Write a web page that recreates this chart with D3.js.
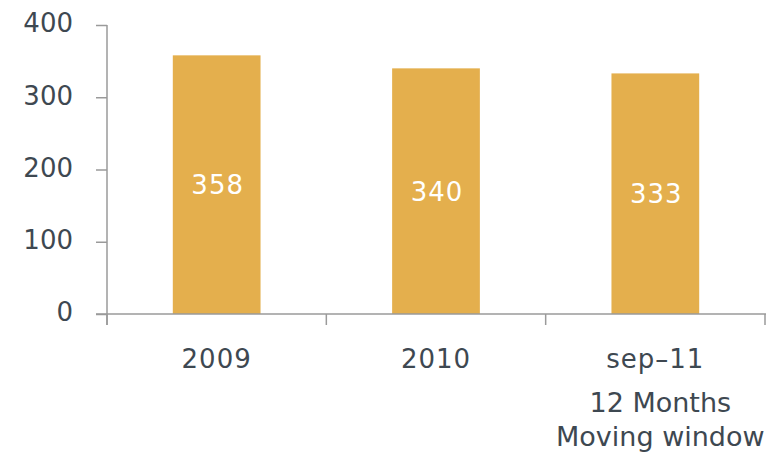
<!DOCTYPE html>
<html>
<head>
<meta charset="utf-8">
<script src="https://cdn.jsdelivr.net/npm/d3@7"></script>
<style>
  body { margin: 0; background: #fff; }
  text { font-family: "DejaVu Sans", sans-serif; }
</style>
</head>
<body>
<div id="container"></div>
<script>
let w = 774;
let h = 453;

// data
let categories = ["2009", "2010", "sep\u201311"];
let values = [358, 340, 333];
let yTicks = [0, 100, 200, 300, 400];
let subLabel = ["12 Months", "Moving window"];

let barColor = "#e4af4d";
let axisColor = "#9a9a9a";
let textColor = "#3e4851";

let viz = d3.select("#container")
  .append("svg")
    .attr("width", w)
    .attr("height", h);

let y = d3.scaleLinear().domain([0, 400]).range([314, 25]);
let xBand = d3.scaleBand().domain(categories).range([107, 765]).padding(0);

// y axis
let yAxis = d3.axisLeft(y)
  .tickValues(yTicks)
  .tickSize(11)
  .tickSizeOuter(0)
  .tickPadding(23);

let yg = viz.append("g")
  .attr("transform", "translate(107,0)")
  .call(yAxis);
yg.select(".domain").remove();
yg.selectAll("line").attr("stroke", axisColor).attr("stroke-width", 1.5);
yg.selectAll("text")
  .attr("fill", textColor)
  .style("font-size", "26px")
  .attr("dy", "0.26em");

viz.append("line")
  .attr("x1", 107).attr("x2", 107)
  .attr("y1", y(400)).attr("y2", 325)
  .attr("stroke", axisColor).attr("stroke-width", 1.5);

// bars
let bw = xBand.bandwidth();
viz.selectAll(".bar").data(values).enter()
  .append("rect")
    .attr("class", "bar")
    .attr("x", function(d, i){ return xBand(categories[i]) + bw * 0.3; })
    .attr("width", bw * 0.4)
    .attr("y", function(d){ return y(d); })
    .attr("height", function(d){ return y(0) - y(d); })
    .attr("fill", barColor);

// value labels
viz.selectAll(".val").data(values).enter()
  .append("text")
    .attr("class", "val")
    .text(function(d){ return d; })
    .attr("x", function(d, i){ return xBand(categories[i]) + bw / 2 + 1; })
    .attr("y", function(d){ return (y(d) + y(0)) / 2; })
    .attr("dy", "0.37em")
    .attr("text-anchor", "middle")
    .attr("fill", "#fff")
    .style("font-size", "26px")
    .style("letter-spacing", "1px");

// x axis
viz.append("line")
  .attr("x1", 96).attr("x2", 766)
  .attr("y1", y(0)).attr("y2", y(0))
  .attr("stroke", axisColor).attr("stroke-width", 1.5);

let bounds = categories.map(function(c){ return xBand(c); }).concat([xBand.range()[1]]);
viz.selectAll(".xtick").data(bounds).enter()
  .append("line")
    .attr("class", "xtick")
    .attr("x1", function(d){ return d; })
    .attr("x2", function(d){ return d; })
    .attr("y1", y(0)).attr("y2", 325)
    .attr("stroke", axisColor).attr("stroke-width", 1.5);

viz.selectAll(".xlab").data(categories).enter()
  .append("text")
    .attr("class", "xlab")
    .text(function(d){ return d; })
    .attr("x", function(d){ return xBand(d) + bw / 2; })
    .attr("y", 368)
    .attr("text-anchor", "middle")
    .attr("fill", textColor)
    .style("font-size", "26px")
    .style("letter-spacing", "1px");

viz.selectAll(".sub").data(subLabel).enter()
  .append("text")
    .attr("class", "sub")
    .text(function(d){ return d; })
    .attr("x", xBand(categories[2]) + bw / 2 + 5)
    .attr("y", function(d, i){ return 412 + i * 34; })
    .attr("text-anchor", "middle")
    .attr("fill", textColor)
    .style("font-size", "27px");
</script>
</body>
</html>
